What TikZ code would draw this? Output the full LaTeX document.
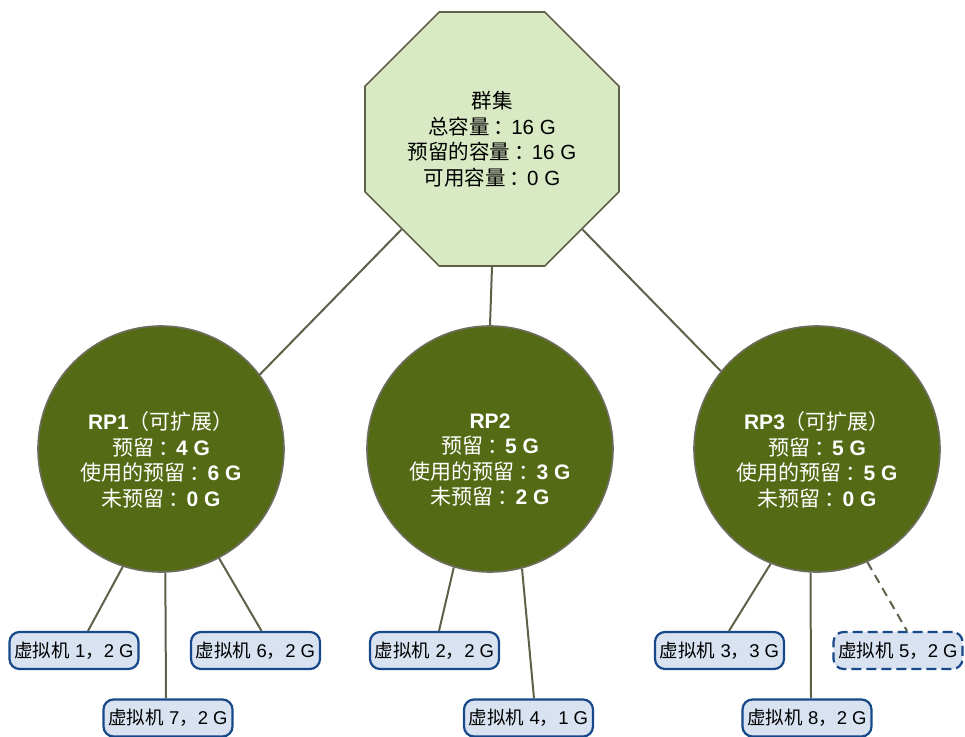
\documentclass[tikz,border=0pt]{standalone}
\usepackage{fontspec}
\setmainfont{Liberation Sans}
\newfontfamily\cjk{Noto Sans CJK SC}
\newfontfamily\cjkp{Noto Sans CJK TC}
\newcommand{\zh}[1]{{\cjk #1}}
\newcommand{\zp}[1]{{\cjkp #1}}
\newcommand{\zc}{\hspace{4pt}\zh{：}\hspace{-3pt}}
\usetikzlibrary{shapes.geometric}

\definecolor{clfill}{RGB}{217,233,195}
\definecolor{edgegrey}{RGB}{95,96,74}
\definecolor{poolgreen}{RGB}{85,106,20}
\definecolor{poolgrey}{RGB}{110,110,96}
\definecolor{vmfill}{RGB}{216,226,240}
\definecolor{vmblue}{RGB}{22,72,138}

\begin{document}
\begin{tikzpicture}[x=1pt,y=-1pt,
    cluster node/.style={regular polygon,regular polygon sides=8,minimum size=275pt,inner sep=0pt,draw=edgegrey,line width=1.6pt,fill=clfill,align=center,font=\fontsize{20.5}{25.5}\selectfont},
    pool node/.style={circle,minimum size=246pt,inner sep=0pt,draw=poolgrey,line width=1.6pt,fill=poolgreen},
    pool text/.style={text=white,align=center,font=\fontsize{21}{25.5}\selectfont},
    vm node/.style={rectangle,rounded corners=10pt,minimum width=129pt,minimum height=37pt,inner sep=2pt,draw=vmblue,line width=2.2pt,fill=vmfill,font=\fontsize{18.5}{22}\selectfont},
    link/.style={draw=edgegrey,line width=2pt}]
            \useasboundingbox (0,0) rectangle (965,736);

            \node[cluster node] (cl) at (492,139) {\zh{群集}\\ \zh{总容量}\zc 16 G\\ \zh{预留的容量}\zc 16 G\\ \zh{可用容量}\zc 0 G};

            \node[pool node] (rp1) at (161,449) {};
            \node[pool node] (rp2) at (490,449) {};
            \node[pool node] (rp3) at (817,449) {};
            \node[pool text] (rp1t) at ([yshift=-11pt]rp1.center) {\textbf{RP1}\zp{（}\zh{可扩展}\zp{）}\\ \zh{预留}\zc\textbf{4 G}\\ \zh{使用的预留}\zc\textbf{6 G}\\ \zh{未预留}\zc\textbf{0 G}};
            \node[pool text] (rp2t) at ([yshift=-11pt]rp2.center) {\textbf{RP2}\\ \zh{预留}\zc\textbf{5 G}\\ \zh{使用的预留}\zc\textbf{3 G}\\ \zh{未预留}\zc\textbf{2 G}};
            \node[pool text] (rp3t) at ([yshift=-11pt]rp3.center) {\textbf{RP3}\zp{（}\zh{可扩展}\zp{）}\\ \zh{预留}\zc\textbf{5 G}\\ \zh{使用的预留}\zc\textbf{5 G}\\ \zh{未预留}\zc\textbf{0 G}};

            \node[vm node] (vm1) at (74,650.5) {\zh{虚拟机} 1\zh{，}2 G};
            \node[vm node] (vm6) at (255.5,650.5) {\zh{虚拟机} 6\zh{，}2 G};
            \node[vm node] (vm7) at (168,718) {\zh{虚拟机} 7\zh{，}2 G};
            \node[vm node] (vm2) at (434.5,650.5) {\zh{虚拟机} 2\zh{，}2 G};
            \node[vm node] (vm4) at (528.5,718) {\zh{虚拟机} 4\zh{，}1 G};
            \node[vm node] (vm3) at (719.5,650.5) {\zh{虚拟机} 3\zh{，}3 G};
            \node[vm node] (vm8) at (807,718) {\zh{虚拟机} 8\zh{，}2 G};
            \node[vm node,dash pattern=on 10pt off 5pt] (vm5) at (898,650.5) {\zh{虚拟机} 5\zh{，}2 G};

            \path[link]
                (cl.225) edge (rp1.37)
                (cl.270) edge (rp2.north)
                (cl.315) edge (rp3.141)
                (rp1.252) edge ([xshift=14pt]vm1.north)
                (rp1.272) edge ([xshift=-2pt]vm7.north)
                (rp1.298) edge ([xshift=6pt]vm6.north)
                (rp2.253) edge ([xshift=4.5pt]vm2.north)
                (rp2.285) edge ([xshift=5.5pt]vm4.north)
                (rp3.248) edge ([xshift=9.5pt]vm3.north)
                (rp3.267) edge ([xshift=4pt]vm8.north)
                (rp3.294) edge [dash pattern=on 9pt off 6pt] ([xshift=9pt]vm5.north)
                ;
        \end{tikzpicture}
\end{document}
